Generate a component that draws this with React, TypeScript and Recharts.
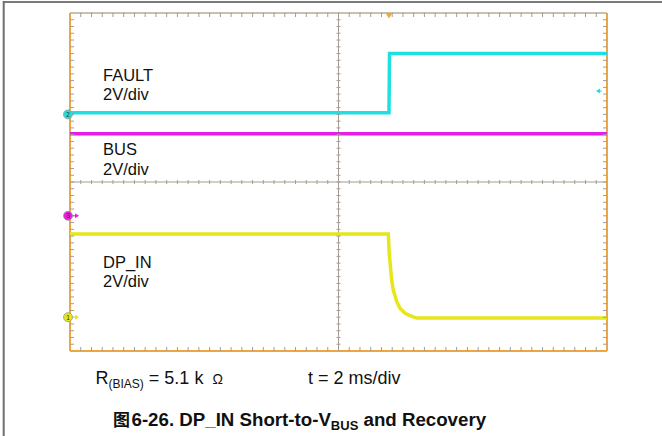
import {
  ComposedChart,
  Line,
  XAxis,
  YAxis,
  CartesianGrid,
  ReferenceLine,
  ReferenceDot,
  Scatter,
} from "recharts";

// screen: 10 horizontal divisions at 2 ms/div, 10 vertical divisions at 2 V/div
const timeTicks = [0, 2, 4, 6, 8, 10, 12, 14, 16, 18, 20];
const divTicks = [0, 1, 2, 3, 4, 5, 6, 7, 8, 9, 10];
const VOLTS_PER_DIV = 2;

// channel ground markers, in divisions above the bottom of the screen
const faultOffset = 7; // CH2
const busOffset = 4; // CH3
const dpInOffset = 1; // CH1

// FAULT, volts
const faultTime = [0, 11.88, 11.9, 20];
const faultVolts = [0.1, 0.1, 3.6, 3.6];

// BUS, volts
const busTime = [0, 20];
const busVolts = [4.85, 4.85];

// DP_IN, volts
const dpInTime = [0, 11.855, 11.89, 11.98, 12.04, 12.17, 12.29, 12.48, 12.66, 12.91, 20];
const dpInVolts = [4.92, 4.92, 3.78, 2.2, 1.61, 0.92, 0.53, 0.23, 0.09, -0.05, -0.05];

const triggerTime = 11.88;
const triggerLevel = 1.38; // on FAULT

const CYAN = "#1ee0e0";
const MAGENTA = "#e41ee4";
const YELLOW = "#e6e61a";
const ORANGE = "#f2a53c";
const GRATICULE = "#a39d92";
const FONT = "'Liberation Sans', Arial, sans-serif";

const toTrace = (time: number[], volts: number[], offset: number) =>
  time.map((t, i) => ({ t, v: offset + volts[i] / VOLTS_PER_DIV }));

const faultData = toTrace(faultTime, faultVolts, faultOffset);
const busData = toTrace(busTime, busVolts, busOffset);
const dpInData = toTrace(dpInTime, dpInVolts, dpInOffset);

// minor graticule marks, 5 per division
const minorT = Array.from({ length: 49 }, (_, i) => (i + 1) * 0.4);
const minorV = Array.from({ length: 49 }, (_, i) => (i + 1) * 0.2);

const topMarks = minorT.map((t) => ({ t, v: 10 }));
const bottomMarks = minorT.map((t) => ({ t, v: 0 }));
const leftMarks = minorV.map((v) => ({ t: 0, v }));
const rightMarks = minorV.map((v) => ({ t: 20, v }));
const centerHMarks = minorT.map((t) => ({ t, v: 5 }));
const centerVMarks = minorV.map((v) => ({ t: 10, v }));

const mark = (dx1: number, dy1: number, dx2: number, dy2: number) => (p: any) =>
  (
    <line
      x1={p.cx + dx1}
      y1={p.cy + dy1}
      x2={p.cx + dx2}
      y2={p.cy + dy2}
      stroke={GRATICULE}
      strokeWidth={1}
    />
  );

const ChannelMarker = ({
  cx,
  cy,
  label,
  color,
  arrow,
}: {
  cx: number;
  cy: number;
  label: string;
  color: string;
  arrow: boolean;
}) => (
  <g>
    {arrow && (
      <>
        <line x1={cx} y1={cy} x2={cx + 7} y2={cy} stroke={color} strokeWidth={1} />
        <path d={`M${cx + 9},${cy} L${cx + 5},${cy - 2.5} L${cx + 5},${cy + 2.5} Z`} fill={color} />
      </>
    )}
    <circle cx={cx - 2} cy={cy} r={4.5} fill={color} stroke="#9a9a9a" strokeWidth={0.8} />
    <text
      x={cx - 2}
      y={cy + 2.3}
      textAnchor="middle"
      fontSize={6.5}
      fontFamily={FONT}
      fill="#333"
    >
      {label}
    </text>
  </g>
);

export default function App() {
  return (
    <div
      style={{
        position: "absolute",
        left: 0,
        top: 0,
        width: 662,
        height: 436,
        background: "#fff",
      }}
    >
      <ComposedChart
        width={662}
        height={436}
        margin={{ top: 13, right: 55, bottom: 85, left: 70 }}
      >
        <XAxis
          dataKey="t"
          type="number"
          domain={[0, 20]}
          ticks={timeTicks}
          interval={0}
          tick={false}
          tickLine={false}
          axisLine={false}
          height={0}
          allowDataOverflow
        />
        <YAxis
          dataKey="v"
          type="number"
          domain={[0, 10]}
          ticks={divTicks}
          interval={0}
          tick={false}
          tickLine={false}
          axisLine={false}
          width={0}
          allowDataOverflow
        />
        <CartesianGrid horizontal={false} stroke="#bcbcbc" strokeDasharray="1 5.76" />
        <CartesianGrid vertical={false} stroke="#bcbcbc" strokeDasharray="1 9.74" />

        <ReferenceLine x={10} stroke={GRATICULE} strokeWidth={1} />
        <ReferenceLine y={5} stroke={GRATICULE} strokeWidth={1} />

        <Scatter data={topMarks} dataKey="v" shape={mark(0, 0, 0, 4)} isAnimationActive={false} />
        <Scatter data={bottomMarks} dataKey="v" shape={mark(0, -4, 0, 0)} isAnimationActive={false} />
        <Scatter data={leftMarks} dataKey="v" shape={mark(0, 0, 4, 0)} isAnimationActive={false} />
        <Scatter data={rightMarks} dataKey="v" shape={mark(-4, 0, 0, 0)} isAnimationActive={false} />
        <Scatter data={centerHMarks} dataKey="v" shape={mark(0, -2, 0, 2)} isAnimationActive={false} />
        <Scatter data={centerVMarks} dataKey="v" shape={mark(-2, 0, 2, 0)} isAnimationActive={false} />

        <ReferenceLine y={10} stroke="#b4ac96" strokeWidth={1.5} />
        <ReferenceLine y={0} stroke={ORANGE} strokeWidth={2} />
        <ReferenceLine x={0} stroke={ORANGE} strokeWidth={2} />
        <ReferenceLine x={20} stroke={ORANGE} strokeWidth={2} />

        <Line
          data={busData}
          dataKey="v"
          type="linear"
          stroke={MAGENTA}
          strokeWidth={3.5}
          dot={false}
          isAnimationActive={false}
        />
        <Line
          data={faultData}
          dataKey="v"
          type="linear"
          stroke={CYAN}
          strokeWidth={3.5}
          dot={false}
          isAnimationActive={false}
        />
        <Line
          data={dpInData}
          dataKey="v"
          type="linear"
          stroke={YELLOW}
          strokeWidth={3.5}
          dot={false}
          isAnimationActive={false}
        />

        <ReferenceDot
          x={0}
          y={faultOffset}
          ifOverflow="visible"
          shape={(p: any) => <ChannelMarker cx={p.cx} cy={p.cy} label="2" color={CYAN} arrow={false} />}
        />
        <ReferenceDot
          x={0}
          y={busOffset}
          ifOverflow="visible"
          shape={(p: any) => <ChannelMarker cx={p.cx} cy={p.cy} label="3" color={MAGENTA} arrow />}
        />
        <ReferenceDot
          x={0}
          y={dpInOffset}
          ifOverflow="visible"
          shape={(p: any) => <ChannelMarker cx={p.cx} cy={p.cy} label="1" color={YELLOW} arrow />}
        />
        {/* trigger position */}
        <ReferenceDot
          x={triggerTime}
          y={10}
          ifOverflow="visible"
          shape={(p: any) => (
            <path d={`M${p.cx - 3.5},${p.cy} L${p.cx + 3.5},${p.cy} L${p.cx},${p.cy + 5.5} Z`} fill={ORANGE} />
          )}
        />
        {/* trigger level */}
        <ReferenceDot
          x={20}
          y={faultOffset + triggerLevel / VOLTS_PER_DIV}
          ifOverflow="visible"
          shape={(p: any) => (
            <g>
              <line x1={p.cx - 10} y1={p.cy} x2={p.cx - 5} y2={p.cy} stroke={CYAN} strokeWidth={1} />
              <path d={`M${p.cx - 11},${p.cy} L${p.cx - 7},${p.cy - 2.5} L${p.cx - 7},${p.cy + 2.5} Z`} fill={CYAN} />
            </g>
          )}
        />
      </ComposedChart>

      <svg
        width={662}
        height={436}
        style={{ position: "absolute", left: 0, top: 0, pointerEvents: "none" }}
        fontFamily={FONT}
      >
        <line x1={3} y1={2} x2={662} y2={2} stroke="#7a7a7a" strokeWidth={2} />
        <line x1={3.7} y1={1} x2={3.7} y2={436} stroke="#6e6e6e" strokeWidth={2} />

        <g fontSize={16.5} fill="#111">
          <text x={103} y={81}>FAULT</text>
          <text x={103} y={100}>2V/div</text>
          <text x={103} y={154.5}>BUS</text>
          <text x={103} y={175}>2V/div</text>
          <text x={103} y={267.5}>DP_IN</text>
          <text x={103} y={286.5}>2V/div</text>
        </g>

        <text x={95.5} y={383.5} fontSize={18} fill="#111">
          R
          <tspan fontSize={12} dy={4}>(BIAS)</tspan>
          <tspan dy={-4}> = 5.1 k</tspan>
          <tspan x={212.5} fontSize={14}>Ω</tspan>
        </text>
        <text x={308} y={383.5} fontSize={18} fill="#111">
          t = 2 ms/div
        </text>

        <g fontWeight="bold" fill="#111">
          <text x={113} y={426} fontSize={17} fontFamily="'Noto Sans CJK SC', sans-serif">
            图
          </text>
          <text x={131.5} y={426} fontSize={18.7}>
            6-26. DP_IN Short-to-V
            <tspan fontSize={13} dy={4}>BUS</tspan>
            <tspan dy={-4}> and Recovery</tspan>
          </text>
        </g>
      </svg>
    </div>
  );
}
